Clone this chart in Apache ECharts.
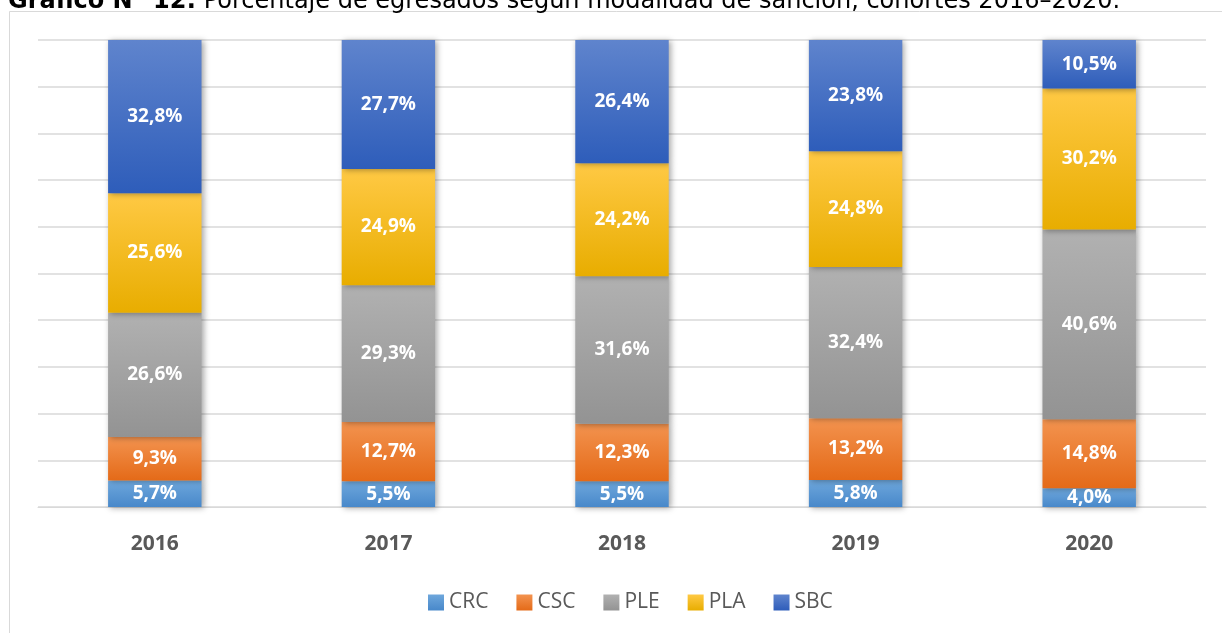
<!DOCTYPE html>
<html>
<head>
<meta charset="utf-8">
<script src="https://cdn.jsdelivr.net/npm/echarts@6/dist/echarts.min.js"></script>
<style>
html,body{margin:0;padding:0;background:#fff;}
#chart{width:1222px;height:633px;}
</style>
</head>
<body>
<div id="chart"></div>
<script>
const categories = ['2016', '2017', '2018', '2019', '2020'];
const seriesNames = ['CRC', 'CSC', 'PLE', 'PLA', 'SBC'];
const CRC = [5.7, 5.5, 5.5, 5.8, 4.0];
const CSC = [9.3, 12.7, 12.3, 13.2, 14.8];
const PLE = [26.6, 29.3, 31.6, 32.4, 40.6];
const PLA = [25.6, 24.9, 24.2, 24.8, 30.2];
const SBC = [32.8, 27.7, 26.4, 23.8, 10.5];
const titleBold = 'Gráfico N° 12:';
const titleRest = ' Porcentaje de egresados según modalidad de sanción, cohortes 2016–2020.';

const values = [CRC, CSC, PLE, PLA, SBC];
const gradients = [
  ['#6EA7DC', '#4888CA'],
  ['#F3934F', '#E46A18'],
  ['#B1B1B1', '#939393'],
  ['#FFC944', '#E8AD00'],
  ['#5F84CD', '#2E5DBA']
];
function grad(c) {
  return new echarts.graphic.LinearGradient(0, 0, 0, 1, [
    {offset: 0, color: c[0]}, {offset: 1, color: c[1]}
  ]);
}

const chart = echarts.init(document.getElementById('chart'));
const series = seriesNames.map((name, i) => ({
  name: name,
  type: 'bar',
  stack: 'total',
  barWidth: '40%',
  data: values[i],
  itemStyle: {
    color: grad(gradients[i]),
    shadowBlur: 6,
    shadowColor: 'rgba(0,0,0,0.35)',
    shadowOffsetX: 2,
    shadowOffsetY: 1
  },
  label: {
    show: true,
    position: 'inside',
    color: '#ffffff',
    fontFamily: 'Open Sans',
    fontWeight: 'bold',
    fontSize: 19,
    formatter: p => p.value.toFixed(1).replace('.', ',') + '%'
  }
}));

chart.setOption({
  animation: false,
  backgroundColor: '#ffffff',
  graphic: [
    {
      type: 'rect',
      shape: {x: 9.5, y: 11.5, width: 1240, height: 700},
      style: {fill: 'none', stroke: '#d9d9d9', lineWidth: 1},
      silent: true,
      z: -1
    },
    {
      type: 'text',
      left: 8,
      top: -10,
      style: {
        rich: {
          b: {fontFamily: 'DejaVu Sans', fontWeight: 'bold', fontSize: 24, fill: '#000'},
          n: {fontFamily: 'DejaVu Sans', fontSize: 24, fill: '#000'}
        },
        text: '{b|' + titleBold + '}{n|' + titleRest + '}'
      }
    }
  ],
  grid: {left: 38, right: 16, top: 40, bottom: 126, containLabel: false},
  legend: {
    bottom: 15,
    left: 423,
    itemWidth: 16,
    itemHeight: 16,
    itemGap: 28,
    icon: 'rect',
    textStyle: {color: '#595959', fontSize: 21, fontFamily: 'Open Sans'},
    data: seriesNames
  },
  xAxis: {
    type: 'category',
    data: categories,
    axisLine: {lineStyle: {color: '#d9d9d9', width: 1}},
    axisTick: {show: false},
    axisLabel: {color: '#595959', fontSize: 21, fontWeight: 'bold', fontFamily: 'Open Sans', margin: 27}
  },
  yAxis: {
    type: 'value',
    min: 0,
    max: 100,
    interval: 10,
    axisLabel: {show: false},
    axisLine: {show: false},
    axisTick: {show: false},
    splitLine: {lineStyle: {color: '#d9d9d9', width: 1.5}}
  },
  series: series
});
</script>
</body>
</html>
